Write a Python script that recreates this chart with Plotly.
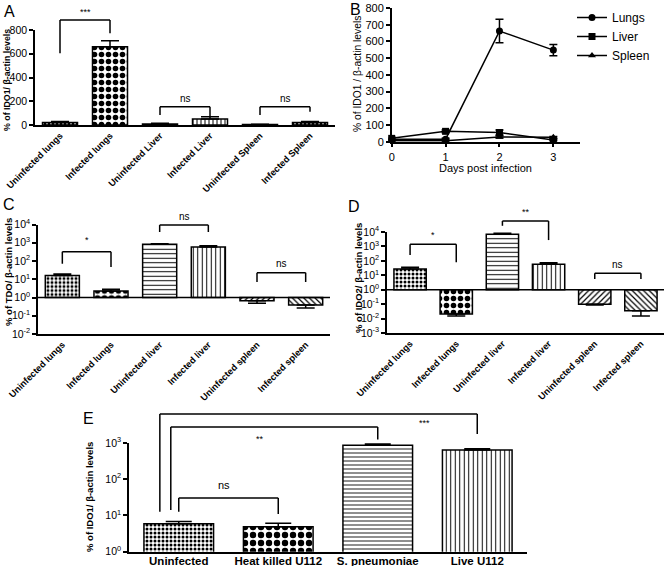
import math
import plotly.graph_objects as go

W, H = 664, 566
FONT = "Liberation Sans, Arial, sans-serif"

# ---------------- data ----------------
a_labels = ["Uninfected lungs", "Infected lungs", "Uninfected Liver",
            "Infected Liver", "Uninfected Spleen", "Infected Spleen"]
a_values = [20, 660, 8, 50, 4, 22]
a_errors = [10, 50, 6, 20, 3, 8]

b_days = [0, 1, 2, 3]
b_lungs = [15, 15, 662, 548]
b_lungs_err = [8, 6, 70, 33]
b_liver = [20, 62, 55, 10]
b_liver_err = [6, 8, 15, 5]
b_spleen = [5, 5, 28, 26]
b_spleen_err = [3, 3, 6, 5]

cd_labels = ["Uninfected lungs", "Infected lungs", "Uninfected liver",
             "Infected liver", "Uninfected spleen", "Infected spleen"]
c_values = [16, 2.3, 830, 580, 0.67, 0.39]
c_errors = [3.5, 0.5, 50, 110, 0.19, 0.12]

d_values = [27, 0.021, 6900, 58, 0.098, 0.035]
d_errors = [9, 0.006, 1200, 16, 0.011, 0.02]

e_labels = ["Uninfected", "Heat killed U112", "S. pneumoniae", "Live U112"]
e_values = [5.9, 4.9, 870, 640]
e_errors = [0.9, 1.2, 65, 50]

# ---------------- panel geometry (pixels) ----------------
panels = {
    "A": dict(x=[35, 335], y=[125, 30], yr=[0, 800], log=False, xr=[-0.5, 5.5], ax="x", ay="y"),
    "B": dict(x=[391.7, 580.3], y=[141.7, 8], yr=[0, 800], log=False, xr=[0, 3.5], ax="x2", ay="y2"),
    "C": dict(x=[38, 330], y=[334, 224.5], yr=[-2, 4], log=True, xr=[-0.5, 5.5], ax="x3", ay="y3"),
    "D": dict(x=[387, 664], y=[333, 232], yr=[-3, 4], log=True, xr=[-0.5, 5.5], ax="x4", ay="y4"),
    "E": dict(x=[129, 527], y=[551.7, 443], yr=[0, 3], log=True, xr=[-0.5, 3.5], ax="x5", ay="y5"),
}


def ypaper(p, v):
    g = panels[p]
    d0, d1 = 1 - g["y"][0] / H, 1 - g["y"][1] / H
    val = math.log10(v) if g["log"] else v
    r0, r1 = g["yr"]
    return d0 + (val - r0) / (r1 - r0) * (d1 - d0)


fig = go.Figure()
shapes = []
annotations = []

BLACK = "black"


def bar_trace(p, values, errors, shapes_, sizes, sols, base=None):
    g = panels[p]
    xs = list(range(len(values)))
    if base is None:
        ys = values
        plus = errors
        minus = [0] * len(values)
    else:
        ys = [v - base for v in values]
        plus = [e if v >= base else 0 for v, e in zip(values, errors)]
        minus = [0 if v >= base else e for v, e in zip(values, errors)]
    return go.Bar(
        x=xs, y=ys, base=base, xaxis=g["ax"], yaxis=g["ay"], width=0.7,
        marker=dict(color="white", line=dict(color=BLACK, width=1.5),
                    pattern=dict(shape=shapes_, size=sizes, solidity=sols,
                                 fgcolor=BLACK, bgcolor="white", fillmode="replace")),
        error_y=dict(type="data", symmetric=False, array=plus, arrayminus=minus,
                     color=BLACK, thickness=1.5, width=9 if p != "E" else 13),
        showlegend=False, hoverinfo="skip")


# A
fig.add_trace(bar_trace("A", a_values, a_errors,
                        [".", ".", "-", "|", ".", "."],
                        [4, 7, 4, 4, 4, 4], [0.45, 0.5, 0.25, 0.25, 0.45, 0.45]))
# C
fig.add_trace(bar_trace("C", c_values, c_errors,
                        [".", ".", "-", "|", "/", "\\"],
                        [4, 7, 4.5, 4.5, 4, 4], [0.45, 0.5, 0.22, 0.22, 0.3, 0.3], base=1))
# D
fig.add_trace(bar_trace("D", d_values, d_errors,
                        [".", ".", "-", "|", "/", "\\"],
                        [4, 7, 4.5, 4.5, 4, 4], [0.45, 0.5, 0.22, 0.22, 0.3, 0.3], base=1))
# E
fig.add_trace(bar_trace("E", e_values, e_errors,
                        [".", ".", "-", "|"],
                        [4, 8, 4, 4.5], [0.45, 0.5, 0.22, 0.22]))

# B lines
for name, vals, errs, sym in [("Lungs", b_lungs, b_lungs_err, "circle"),
                              ("Liver", b_liver, b_liver_err, "square"),
                              ("Spleen", b_spleen, b_spleen_err, "triangle-up")]:
    fig.add_trace(go.Scatter(
        x=b_days, y=vals, name=name, xaxis="x2", yaxis="y2", mode="lines+markers",
        line=dict(color=BLACK, width=1.5),
        marker=dict(symbol=sym, size=7, color=BLACK),
        error_y=dict(type="data", array=errs, color=BLACK, thickness=1.5, width=4),
        cliponaxis=False, hoverinfo="skip"))


def bracket(p, x0, x1, ytop, yl, yr, text, tx, ty, tsize=10):
    g = panels[p]
    xr = g["ax"]
    yt = ypaper(p, ytop)
    for xa, ya in [(x0, yl), (x1, yr)]:
        shapes.append(dict(type="line", xref=xr, yref="paper", x0=xa, x1=xa,
                           y0=ypaper(p, ya), y1=yt, line=dict(color=BLACK, width=1.5)))
    shapes.append(dict(type="line", xref=xr, yref="paper", x0=x0, x1=x1,
                       y0=yt, y1=yt, line=dict(color=BLACK, width=1.5)))
    annotations.append(dict(x=tx, y=ypaper(p, ty), xref=xr, yref="paper", text=text,
                            showarrow=False, font=dict(size=tsize, family=FONT, color=BLACK),
                            xanchor="center", yanchor="middle"))


# A brackets
bracket("A", 0, 1, 884, 604, 772, "***", 0.5, 950, 9)
bracket("A", 2, 3, 154, 84, 67, "ns", 2.5, 227)
bracket("A", 4, 5, 154, 84, 112, "ns", 4.5, 227)
# C brackets
bracket("C", 0, 1, 10 ** 2.51, 10 ** 1.85, 10 ** 1.67, "*", 0.5, 10 ** 3.15, 9)
bracket("C", 2, 3, 10 ** 3.97, 10 ** 3.59, 10 ** 3.59, "ns", 2.5, 10 ** 4.45)
bracket("C", 4, 5, 10 ** 1.36, 10 ** 0.85, 10 ** 0.85, "ns", 4.5, 10 ** 1.89)
# D brackets
bracket("D", 0, 1, 10 ** 3.15, 10 ** 2.4, 10 ** 1.9, "*", 0.5, 10 ** 3.8, 9)
bracket("D", 2, 3, 10 ** 4.76, 10 ** 4.43, 10 ** 3.44, "**", 2.5, 10 ** 5.4, 9)
bracket("D", 4, 5, 10 ** 1.14, 10 ** 0.74, 10 ** 0.74, "ns", 4.5, 10 ** 1.76)
# E brackets
bracket("E", -0.19, 3, 10 ** 3.80, 10 ** 1.10, 10 ** 3.25, "***", 2.47, 10 ** 3.55, 9)
bracket("E", -0.08, 2, 10 ** 3.44, 10 ** 1.15, 10 ** 3.10, "**", 0.82, 10 ** 3.11, 9)
bracket("E", 0, 1, 10 ** 1.48, 10 ** 1.10, 10 ** 1.04, "ns", 0.45, 10 ** 1.84, 11)

# baseline at 10^0 for C and D
for p in ["C", "D"]:
    g = panels[p]
    shapes.append(dict(type="line", xref=g["ax"], yref=g["ay"], x0=g["xr"][0], x1=g["xr"][1],
                       y0=1, y1=1, line=dict(color=BLACK, width=1.5)))

# ---------------- axes ----------------
layout = dict(width=W, height=H, margin=dict(l=0, r=0, t=0, b=0, autoexpand=False),
              paper_bgcolor="white", plot_bgcolor="white",
              font=dict(family=FONT, color=BLACK, size=11), bargap=0.3)


def axname(a):
    return "xaxis" + a[1:] if a.startswith("x") else "yaxis" + a[1:]


def pow_text(k):
    return "10<sup>%d</sup>" % k


for p, g in panels.items():
    xa = dict(domain=[g["x"][0] / W, min(1, g["x"][1] / W)], range=g["xr"],
              showline=True, linecolor=BLACK, linewidth=1.5, showgrid=False,
              zeroline=False, anchor=g["ay"], fixedrange=True, automargin=False,
              ticklabeloverflow="allow")
    ya = dict(domain=[1 - g["y"][0] / H, 1 - g["y"][1] / H], showline=True,
              linecolor=BLACK, linewidth=1.5, showgrid=False, zeroline=False,
              anchor=g["ax"], ticks="outside", ticklen=4, tickwidth=1.5, tickcolor=BLACK,
              fixedrange=True, tickfont=dict(size=10.5, family=FONT), automargin=False,
              ticklabeloverflow="allow")
    if g["log"]:
        ya.update(type="log", range=g["yr"])
        ks = list(range(g["yr"][0], g["yr"][1] + 1))
        ya.update(tickmode="array", tickvals=[10 ** k for k in ks],
                  ticktext=[pow_text(k) for k in ks])
    else:
        ya.update(range=g["yr"])
    if p in ("A", "C", "D"):
        labels = a_labels if p == "A" else cd_labels
        xa.update(tickmode="array", tickvals=list(range(6)),
                  ticktext=["<b>%s</b>" % t for t in labels], tickangle=-45,
                  tickfont=dict(size=9.2, family=FONT), ticks="")
    elif p == "E":
        xa.update(tickmode="array", tickvals=list(range(4)),
                  ticktext=["<b>%s</b>" % t for t in e_labels], tickangle=0,
                  tickfont=dict(size=11.5, family=FONT), ticks="",
                  ticklabelstandoff=-2)
    else:  # B
        xa.update(tickmode="array", tickvals=b_days, ticks="outside", ticklen=4,
                  tickwidth=1.5, tickcolor=BLACK, tickfont=dict(size=11, family=FONT))
        ya.update(tickmode="array", tickvals=list(range(0, 801, 100)),
                  tickfont=dict(size=11, family=FONT))
    layout[axname(g["ax"])] = xa
    layout[axname(g["ay"])] = ya

# panel letters
for letter, (x, y) in {"A": (9, 11), "B": (355, 9), "C": (9, 204), "D": (354, 207),
                       "E": (88, 418)}.items():
    annotations.append(dict(x=x / W, y=1 - y / H, xref="paper", yref="paper", text=letter,
                            showarrow=False, font=dict(size=16, family=FONT, color=BLACK),
                            xanchor="center", yanchor="middle"))

# axis titles
for text, (x, y), bold, size in [
        ("% of IDO1/ β-actin levels", (7, 80), True, 8.8),
        ("% of IDO1 / β-actin levels", (357, 74), False, 10.3),
        ("% of TDO/ β-actin levels", (8, 272), True, 9.5),
        ("% of IDO2/ β-actin levels", (359, 278), True, 9.5),
        ("% of IDO1/ β-actin levels", (89, 497), True, 9.5)]:
    annotations.append(dict(x=x / W, y=1 - y / H, xref="paper", yref="paper",
                            text="<b>%s</b>" % text if bold else text, textangle=-90,
                            showarrow=False, font=dict(size=size, family=FONT, color=BLACK),
                            xanchor="center", yanchor="middle"))
annotations.append(dict(x=485 / W, y=1 - 168 / H, xref="paper", yref="paper",
                        text="Days post infection", showarrow=False,
                        font=dict(size=11, family=FONT, color=BLACK),
                        xanchor="center", yanchor="middle"))

layout["shapes"] = shapes
layout["annotations"] = annotations
layout["showlegend"] = True
layout["legend"] = dict(x=572 / W, y=1 - 3 / H, xanchor="left", yanchor="top",
                        font=dict(size=12, family=FONT, color=BLACK),
                        bgcolor="rgba(0,0,0,0)", tracegroupgap=0, itemwidth=30)

fig.update_layout(**layout)
fig.write_html("out.html", config={"displayModeBar": False},
               post_script="document.body.style.margin='0';document.body.style.overflow='hidden';")
